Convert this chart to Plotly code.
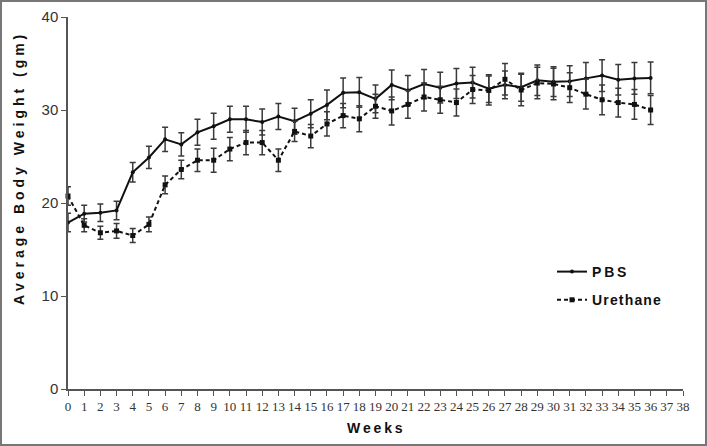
"""Average body weight over weeks, PBS vs Urethane."""
import plotly.graph_objects as go

weeks = list(range(37))

pbs_mean = [17.9, 18.85, 18.95, 19.2, 23.3, 24.9, 26.85, 26.3, 27.6, 28.25,
            29.0, 29.0, 28.7, 29.3, 28.8, 29.6, 30.55, 31.85, 31.9, 31.2,
            32.7, 32.1, 32.8, 32.4, 32.85, 32.95, 32.3, 32.7, 32.45, 33.2,
            33.05, 33.1, 33.4, 33.7, 33.25, 33.4, 33.45]
pbs_err = [1.0, 0.9, 0.95, 1.0, 1.05, 1.2, 1.3, 1.25, 1.4, 1.4,
           1.4, 1.4, 1.4, 1.4, 1.4, 1.5, 1.6, 1.6, 1.6, 1.5,
           1.6, 1.6, 1.55, 1.65, 1.6, 1.65, 1.5, 1.5, 1.5, 1.65,
           1.6, 1.65, 1.7, 1.7, 1.65, 1.7, 1.7]

ure_mean = [20.75, 17.6, 16.8, 17.0, 16.5, 17.7, 21.95, 23.6, 24.6, 24.6,
            25.8, 26.5, 26.5, 24.6, 27.7, 27.2, 28.5, 29.4, 29.05, 30.4,
            29.9, 30.6, 31.4, 31.1, 30.8, 32.2, 32.1, 33.3, 32.15, 32.9,
            32.8, 32.4, 31.7, 31.1, 30.8, 30.6, 30.0]
ure_err = [1.0, 0.7, 0.7, 0.8, 0.75, 0.8, 0.95, 1.0, 1.2, 1.3,
           1.25, 1.3, 1.3, 1.2, 1.1, 1.25, 1.3, 1.3, 1.4, 1.3,
           1.5, 1.5, 1.5, 1.45, 1.45, 1.5, 1.55, 1.7, 1.7, 1.7,
           1.7, 1.6, 1.6, 1.6, 1.55, 1.6, 1.55]

x_ticks = list(range(39))
y_ticks = [0, 10, 20, 30, 40]

W, H = 707, 446
ML, MR, MT, MB = 68, 24, 17, 57
PW, PH = W - ML - MR, H - MT - MB


def px_x(px):
    return (px - ML) / PW


def px_y(py):
    return (H - MB - py) / PH


def spaced(s, gap="\u2009"):
    # mimic the wide letter spacing of the original
    return gap.join(s)


narrow = "Liberation Sans Narrow, Arial Narrow, Liberation Sans, Arial"

fig = go.Figure()
fig.add_trace(go.Scatter(
    x=weeks, y=pbs_mean, name=spaced("PBS", "\u2009"), legendgroup="pbs",
    mode="lines+markers",
    line=dict(color="#111111", width=2),
    marker=dict(symbol="circle", size=4, color="#111111"),
    error_y=dict(type="data", array=pbs_err, color="#3a3a3a", thickness=1.5, width=3),
    cliponaxis=False,
))
fig.add_trace(go.Scatter(
    x=weeks, y=ure_mean, name=spaced("Urethane", "\u200a"), legendgroup="ure",
    mode="lines+markers",
    line=dict(color="#111111", width=2, dash="4px,3px"),
    marker=dict(symbol="square", size=5, color="#111111"),
    error_y=dict(type="data", array=ure_err, color="#3a3a3a", thickness=1.5, width=3),
    cliponaxis=False,
))

fig.update_layout(
    width=W, height=H,
    margin=dict(l=ML, r=MR, t=MT, b=MB),
    paper_bgcolor="white", plot_bgcolor="white",
    showlegend=True,
    legend=dict(
        x=px_x(552), y=px_y(256), xanchor="left", yanchor="top",
        font=dict(family=narrow, size=14, color="#111111", weight="bold"),
        tracegroupgap=7, bgcolor="rgba(0,0,0,0)",
    ),
    xaxis=dict(
        range=[0, 38], tickmode="array", tickvals=x_ticks,
        ticktext=[str(t) for t in x_ticks],
        showline=True, linecolor="#555555", linewidth=1.5,
        ticks="outside", ticklen=5, tickcolor="#555555", tickwidth=1,
        showgrid=False, zeroline=False, automargin=False,
        tickfont=dict(family="Liberation Serif, Times New Roman, serif", size=13, color="#333333"),
    ),
    yaxis=dict(
        range=[0, 40], tickmode="array", tickvals=y_ticks,
        showline=True, linecolor="#555555", linewidth=1.5,
        ticks="outside", ticklen=5, tickcolor="#555555", tickwidth=1,
        showgrid=False, zeroline=False, automargin=False,
        tickfont=dict(family=narrow, size=15, color="#333333"),
    ),
    shapes=[dict(
        type="rect", xref="paper", yref="paper",
        x0=px_x(1), x1=px_x(706), y0=px_y(445), y1=px_y(1),
        line=dict(color="#777777", width=2), layer="below",
    )],
    annotations=[
        dict(text=spaced("Average Body Weight (gm)", "\u2009\u200a"), textangle=-90,
             xref="paper", yref="paper", x=px_x(19), y=px_y(170),
             showarrow=False, xanchor="center", yanchor="middle",
             font=dict(family=narrow, size=14, color="#111111", weight="bold")),
        dict(text=spaced("Weeks"), xref="paper", yref="paper",
             x=px_x(375), y=px_y(428), showarrow=False,
             xanchor="center", yanchor="middle",
             font=dict(family=narrow, size=14, color="#111111", weight="bold")),
    ],
)

# the page's default body margin would shift the figure by 8px
fig.write_html("out.html", config={"displayModeBar": False},
               post_script="document.body.style.margin='0';")
